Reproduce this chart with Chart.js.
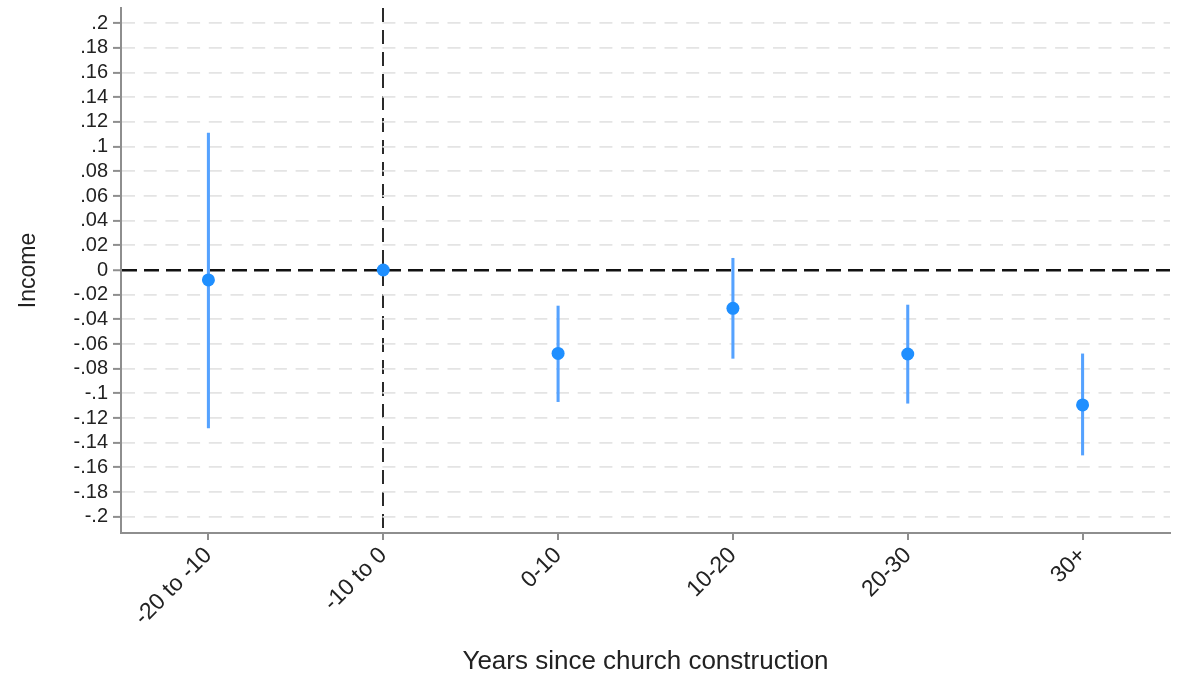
<!DOCTYPE html>
<html>
<head>
<meta charset="utf-8">
<title>Income and church construction</title>
<script src="https://cdn.jsdelivr.net/npm/chart.js@4.4.1/dist/chart.umd.min.js"></script>
<style>
  html, body { margin: 0; padding: 0; background: #ffffff; }
  #wrap { width: 1191px; height: 677px; }
</style>
</head>
<body>
<div id="wrap"><canvas id="chart" width="1191" height="677"></canvas></div>
<script>
// Event-study bins (years relative to church construction)
const categories = ['-20 to -10', '-10 to 0', '0-10', '10-20', '20-30', '30+'];

// Point estimates and 95% confidence bounds; the reference bin has no interval
const estimates = [-0.008, 0.0, -0.0676, -0.0311, -0.0681, -0.1094];
const ciLower   = [-0.128, null, -0.1067, -0.0716, -0.1080, -0.1500];
const ciUpper   = [ 0.111, null, -0.0292,  0.0095, -0.0284, -0.0680];

// Y axis ticks and their printed labels
const yTickValues = [-0.2, -0.18, -0.16, -0.14, -0.12, -0.1, -0.08, -0.06, -0.04, -0.02, 0,
                      0.02, 0.04, 0.06, 0.08, 0.1, 0.12, 0.14, 0.16, 0.18, 0.2];
const yTickLabels = ['-.2', '-.18', '-.16', '-.14', '-.12', '-.1', '-.08', '-.06', '-.04', '-.02', '0',
                     '.02', '.04', '.06', '.08', '.1', '.12', '.14', '.16', '.18', '.2'];

const referenceBin = 1; // index of the omitted period, marked by a vertical dashed line

const FONT = '"Liberation Sans", Arial, Helvetica, sans-serif';
const BLUE = '#1f8fff';
const BLUE_CI = '#55a2ff';
const TEXT = '#222222';
const AXIS = '#8e8e8e';

const ciRanges = ciLower.map((lo, i) => (lo === null || ciUpper[i] === null) ? null : [lo, ciUpper[i]]);

new Chart(document.getElementById('chart'), {
  type: 'bar',
  data: {
    labels: categories,
    datasets: [
      {
        type: 'line',
        label: 'Estimate',
        data: estimates,
        showLine: false,
        pointRadius: 6.5,
        pointHoverRadius: 6.5,
        pointBackgroundColor: BLUE,
        pointBorderColor: BLUE,
        pointBorderWidth: 0,
        order: 0
      },
      {
        label: '95% CI',
        data: ciRanges,
        backgroundColor: BLUE_CI,
        borderWidth: 0,
        barThickness: 2.4,
        grouped: false,
        order: 1
      }
    ]
  },
  options: {
    responsive: false,
    animation: false,
    events: [],
    layout: { padding: { top: 8, right: 21, bottom: 0, left: 0 } },
    plugins: {
      legend: { display: false },
      tooltip: { enabled: false }
    },
    scales: {
      x: {
        type: 'category',
        offset: true,
        grid: {
          offset: false,
          drawOnChartArea: true,
          color: (ctx) => ctx.index === referenceBin ? '#2a2a2a' : 'rgba(0,0,0,0)',
          lineWidth: 2,
          tickColor: AXIS,
          tickWidth: 2,
          tickLength: 7
        },
        border: { display: true, color: AXIS, width: 2, dash: [14, 8] },
        ticks: {
          color: TEXT,
          font: { family: FONT, size: 23 },
          minRotation: 45,
          maxRotation: 45,
          padding: 2,
          autoSkip: false
        },
        title: {
          display: true,
          text: 'Years since church construction',
          color: TEXT,
          font: { family: FONT, size: 26 },
          padding: { top: 0, bottom: 0 }
        },
        afterFit: (scale) => {
          scale.height = 144;
          scale.paddingLeft = 0;
          scale.paddingRight = 0;
        }
      },
      y: {
        type: 'linear',
        min: -0.2132,
        max: 0.2124,
        afterBuildTicks: (scale) => { scale.ticks = yTickValues.map(v => ({ value: v })); },
        grid: {
          color: (ctx) => (ctx.tick && ctx.tick.value === 0) ? '#111111' : '#e4e4e4',
          lineWidth: (ctx) => (ctx.tick && ctx.tick.value === 0) ? 2.5 : 1.8,
          tickColor: AXIS,
          tickWidth: 2,
          tickLength: 8
        },
        border: {
          display: true,
          color: AXIS,
          width: 2,
          dash: (ctx) => (ctx.tick && ctx.tick.value === 0) ? [15, 7] : [13, 8.7]
        },
        ticks: {
          color: TEXT,
          font: { family: FONT, size: 20 },
          padding: 5,
          autoSkip: false,
          callback: (value, index) => yTickLabels[index]
        },
        title: {
          display: true,
          text: 'Income',
          color: TEXT,
          font: { family: FONT, size: 23 },
          padding: { top: 15, bottom: 0 }
        },
        afterFit: (scale) => {
          scale.width = 121;
          scale.paddingTop = 0;
          scale.paddingBottom = 0;
        }
      }
    }
  }
});
</script>
</body>
</html>
